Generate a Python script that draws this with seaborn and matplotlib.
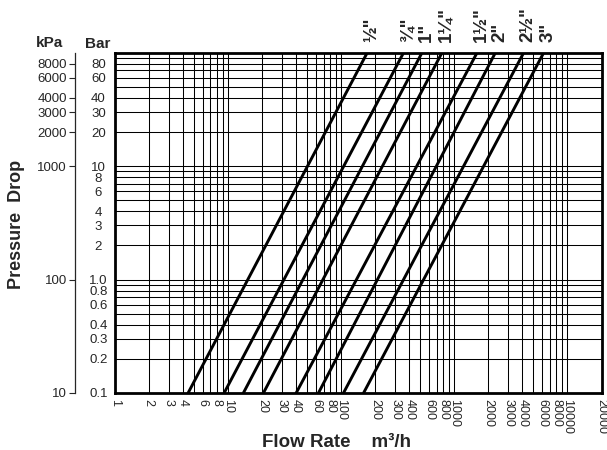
import pandas as pd
import seaborn as sns
import matplotlib.pyplot as plt

# pipe sizes and where each line meets the bottom (0.1 bar) and top (100 bar) edges
sizes = ['½"', '¾"', '1"', '1¼"', '1½"', '2"', '2½"', '3"']
flow_at_low = [4.45, 9.26, 13.7, 20.6, 40.1, 63.1, 105, 158]
flow_at_high = [170, 356, 518, 778, 1588, 2305, 4100, 6160]
p_low, p_high = 0.1, 100

x_ticks = [1, 2, 3, 4, 6, 8, 10, 20, 30, 40, 60, 80, 100, 200, 300, 400, 600, 800,
           1000, 2000, 3000, 4000, 6000, 8000, 10000, 20000]
bar_ticks = [0.1, 0.2, 0.3, 0.4, 0.6, 0.8, 1.0, 2, 3, 4, 6, 8, 10, 20, 30, 40, 60, 80]
bar_labels = ['0.1', '0.2', '0.3', '0.4', '0.6', '0.8', '1.0', '2', '3', '4', '6', '8',
              '10', '20', '30', '40', '60', '80']
kpa_ticks = [10, 100, 1000, 2000, 3000, 4000, 6000, 8000]

sns.set_style('white')
plt.rcParams['font.family'] = ['Liberation Sans', 'DejaVu Sans']

d = pd.DataFrame({
    'size': sizes + sizes,
    'flow': flow_at_low + flow_at_high,
    'bar': [p_low] * len(sizes) + [p_high] * len(sizes),
})

fig = plt.figure(figsize=(6.07, 4.5), dpi=100)
ax = fig.add_axes([0.189, 0.1267, 0.802, 0.756])
ax.set_xscale('log')
ax.set_yscale('log')

sns.lineplot(data=d, x='flow', y='bar', hue='size', palette=['black'] * len(sizes),
             legend=False, linewidth=2.1, estimator=None, sort=False, ax=ax)

ax.set_xlim(1, 20000)
ax.set_ylim(0.1, 100)

# grid at every 1..9 step in each decade
minor_x = [m * 10 ** e for e in range(0, 4) for m in range(1, 10)]
minor_y = [m * 10 ** e for e in range(-1, 2) for m in range(1, 10)]
ax.set_xticks(minor_x, minor=True)
ax.set_yticks(minor_y, minor=True)
ax.set_xticks(x_ticks)
ax.set_xticklabels([str(v) for v in x_ticks], rotation=-90, fontsize=9)
ax.set_yticks(bar_ticks)
ax.set_yticklabels(bar_labels, fontsize=9.5, ha='center')
ax.tick_params(which='both', length=0)
ax.tick_params(axis='y', pad=11.8)
ax.tick_params(axis='x', pad=4)
ax.grid(which='both', color='black', linewidth=0.75)
ax.set_xlabel('')
ax.set_ylabel('')
for s in ax.spines.values():
    s.set_linewidth(2)
    s.set_color('black')

# kPa scale on a separate spine to the left
sec = ax.secondary_yaxis(-0.0822, functions=(lambda b: b * 100, lambda k: k / 100))
sec.set_yticks(kpa_ticks)
sec.set_yticklabels([str(v) for v in kpa_ticks], fontsize=9.5)
sec.yaxis.set_minor_locator(plt.NullLocator())
sec.tick_params(axis='y', length=4.6, width=0.8, pad=1)
sec.spines['left'].set_linewidth(0.9)

# pipe size labels above the top ends
for s, f in zip(sizes, flow_at_high):
    ax.annotate(s, xy=(f, p_high), xytext=(3, 8), textcoords='offset points',
                rotation=90, ha='center', va='bottom', fontsize=13.5,
                fontweight='bold')

fig.text(50 / 607, 1 - 46.7 / 450, 'kPa', ha='center', va='baseline',
         fontsize=11, fontweight='bold')
fig.text(98 / 607, 1 - 47.5 / 450, 'Bar', ha='center', va='baseline',
         fontsize=11, fontweight='bold')
fig.text(17 / 607, 1 - 224.5 / 450, 'Pressure  Drop', rotation=90, ha='center',
         va='center', fontsize=13, fontweight='bold')
fig.text(262 / 607, 1 - 447 / 450, 'Flow Rate    m³/h', ha='left', va='baseline',
         fontsize=13.5, fontweight='bold')

plt.savefig('out.png', dpi=100)
